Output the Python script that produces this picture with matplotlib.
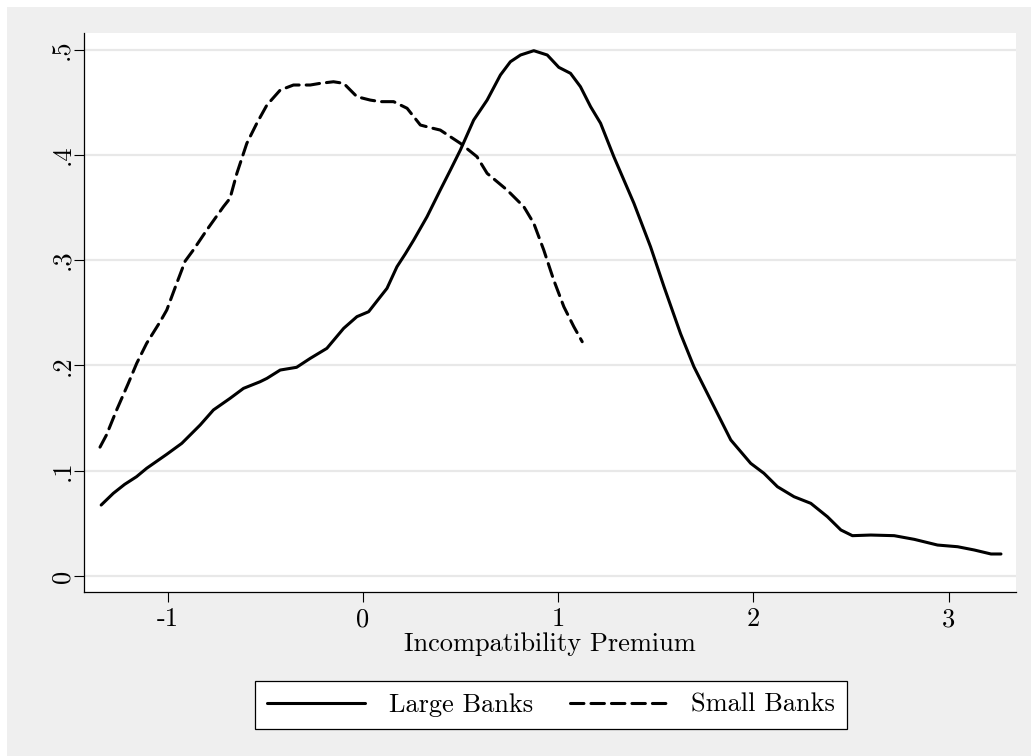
import matplotlib
matplotlib.use("Agg")
import matplotlib.pyplot as plt
from matplotlib.patches import Rectangle

plt.rcParams['font.family'] = ['cmr10', 'DejaVu Serif']
plt.rcParams['axes.unicode_minus'] = False

# Large Banks density
large_x = [-1.341, -1.279, -1.221, -1.160, -1.108, -1.005, -0.928, -0.834, -0.766,
           -0.681, -0.612, -0.527, -0.492, -0.424, -0.340, -0.270, -0.185, -0.099,
           -0.031, 0.029, 0.089, 0.123, 0.174, 0.217, 0.260, 0.328, 0.396, 0.448,
           0.499, 0.567, 0.636, 0.704, 0.755, 0.807, 0.875, 0.944, 1.003, 1.063,
           1.114, 1.166, 1.217, 1.285, 1.388, 1.473, 1.542, 1.627, 1.695, 1.781,
           1.884, 1.986, 2.054, 2.123, 2.208, 2.294, 2.379, 2.448, 2.507, 2.601,
           2.721, 2.824, 2.943, 3.046, 3.131, 3.217, 3.268]
large_y = [0.0674, 0.0785, 0.0870, 0.0943, 0.1023, 0.1156, 0.1260, 0.1434, 0.1577,
           0.1687, 0.1782, 0.1845, 0.1877, 0.1956, 0.1982, 0.2067, 0.2162, 0.2352,
           0.2463, 0.2510, 0.2652, 0.2732, 0.2937, 0.3060, 0.3191, 0.3412, 0.3666, 0.3856,
           0.4046, 0.4330, 0.4520, 0.4758, 0.4884, 0.4948, 0.4989, 0.4948, 0.4831, 0.4774,
           0.4647, 0.4457, 0.4300, 0.3982, 0.3539, 0.3127, 0.2747, 0.2300, 0.1988, 0.1671,
           0.1292, 0.1070, 0.0975, 0.0848, 0.0753, 0.0690, 0.0563, 0.0437, 0.0383, 0.0389,
           0.0383, 0.0348, 0.0294, 0.0278, 0.0247, 0.0209, 0.0209]

# Small Banks density
small_x = [-1.347, -1.314, -1.262, -1.202, -1.159, -1.108, -1.039, -1.005, -0.954,
           -0.911, -0.869, -0.800, -0.715, -0.681, -0.646, -0.595, -0.544, -0.492,
           -0.424, -0.356, -0.270, -0.219, -0.151, -0.099, -0.031, 0.037, 0.089,
           0.157, 0.226, 0.294, 0.345, 0.396, 0.499, 0.584, 0.636, 0.738, 0.824,
           0.875, 0.926, 0.977, 1.029, 1.080, 1.123]
small_y = [0.1224, 0.1339, 0.1576, 0.1830, 0.2020, 0.2210, 0.2415, 0.2526, 0.2780,
           0.2990, 0.3096, 0.3286, 0.3507, 0.3587, 0.3824, 0.4109, 0.4299, 0.4473,
           0.4615, 0.4663, 0.4663, 0.4679, 0.4694, 0.4679, 0.4552, 0.4520, 0.4505,
           0.4505, 0.4442, 0.4283, 0.4258, 0.4235, 0.4109, 0.3982, 0.3824, 0.3666, 0.3507,
           0.3349, 0.3096, 0.2811, 0.2557, 0.2368, 0.2225]

xticks = [-1, 0, 1, 2, 3]
xtick_labels = ['-1', '0', '1', '2', '3']
yticks = [0, 0.1, 0.2, 0.3, 0.4, 0.5]
ytick_labels = ['0', '.1', '.2', '.3', '.4', '.5']

W, H = 1031, 756
fig = plt.figure(figsize=(W / 100, H / 100), dpi=100, facecolor='white')
fig.patches.append(Rectangle((7 / W, 0), 1 - 7 / W, 1 - 7 / H, transform=fig.transFigure,
                             facecolor='#efefef', edgecolor='none', zorder=-10))

ax = fig.add_axes([84 / W, 1 - 592 / H, (1016 - 84) / W, (592 - 33) / H])
ax.set_facecolor('white')

ax.plot(large_x, large_y, color='black', lw=2.2, solid_capstyle='round',
        solid_joinstyle='round', label='Large Banks')
ax.plot(small_x, small_y, color='black', lw=2.2, dashes=(4.4, 2.3),
        dash_capstyle='round', label='Small Banks')

ax.set_xlim(-1.429, 3.345)
ax.set_ylim(-0.0152, 0.5157)
ax.set_xticks(xticks)
ax.set_xticklabels(xtick_labels)
ax.set_yticks(yticks)
ax.set_yticklabels(ytick_labels, rotation=90, va='center')
ax.tick_params(axis='both', length=7, width=0.8, labelsize=19, color='black')
ax.tick_params(axis='x', pad=4)
ax.tick_params(axis='y', pad=0)
ax.grid(axis='y', color='#e8e8e8', lw=1.6)
ax.set_axisbelow(True)
for s in ['top', 'right']:
    ax.spines[s].set_visible(False)
for s in ['left', 'bottom']:
    ax.spines[s].set_linewidth(0.9)

ax.set_xlabel('Incompatibility Premium', fontsize=19, labelpad=1)

leg = fig.legend(loc='center', bbox_to_anchor=(551 / W, 1 - 705 / H), ncol=2,
                 fontsize=19, frameon=True, fancybox=False, handlelength=3.7,
                 columnspacing=1.4, borderpad=0.45, handletextpad=0.9, framealpha=1)
leg.get_frame().set_edgecolor('black')
leg.get_frame().set_linewidth(0.9)

fig.savefig('out.png', dpi=100, facecolor=fig.get_facecolor())
